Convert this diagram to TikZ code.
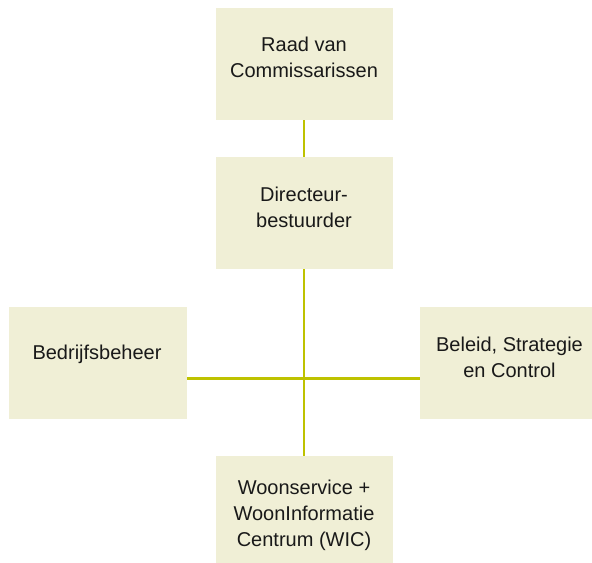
\documentclass[tikz,border=0pt]{standalone}
\usepackage{fontspec}
\setmainfont{Liberation Sans}
\usetikzlibrary{positioning}
\definecolor{boxfill}{RGB}{240,239,214}
\definecolor{linegreen}{RGB}{190,194,0}
\tikzset{every node/.style={font=\fontsize{20bp}{26bp}\selectfont}}
\tikzset{orgbox/.style={fill=boxfill,draw=none,minimum width=177bp,minimum height=112bp,inner sep=0pt}}
\tikzset{orgtext/.style={align=center,inner sep=0pt,text=black!90}}
\tikzset{orgline/.style={draw=linegreen,line width=2.7bp}}

\begin{document}
\begin{tikzpicture}[x=1bp, y=-1bp]
  \useasboundingbox (0,0) rectangle (592,563);
  \clip (0,0) rectangle (592,563);

    % boxes
    \node[orgbox](rvc) at (304,64)  {};
    \node[orgbox](dir) at (304,213) {};
    \node[orgbox, minimum width=178bp](bed) at (98,363) {};
    \node[orgbox](bsc) at (508.5,363) {};
    \node[orgbox](wic) at (304,512) {};
    \coordinate (hub) at (304,378.5);

    % texts
    \node[orgtext](rvc-t) at (304,57.5)    {Raad van\\Commissarissen};
    \node[orgtext](dir-t) at (304,207)     {Directeur-\\bestuurder};
    \node[orgtext](bed-t) at (97,354)      {Bedrijfsbeheer};
    \node[orgtext](bsc-t) at (509.5,357.5) {Beleid, Strategie\\en Control};
    \node[orgtext](wic-t) at (304,515)     {Woonservice +\\WoonInformatie\\Centrum (WIC)};

    % lines
    \draw[orgline] (rvc.south) -- (dir.north);
    \draw[orgline] (dir.south) -- (wic.north);
    \draw[orgline] (bed.east |- hub) -- (bsc.west |- hub);

  \end{tikzpicture}
\end{document}
